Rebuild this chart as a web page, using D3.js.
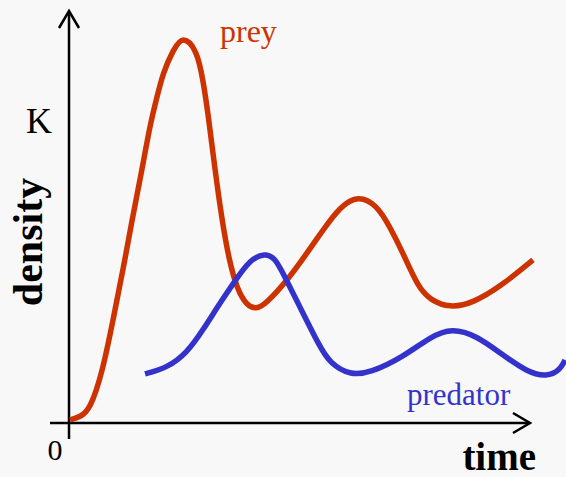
<!DOCTYPE html>
<html>
<head>
<meta charset="utf-8">
<script src="https://cdn.jsdelivr.net/npm/d3@7"></script>
<style>
  html, body { margin: 0; padding: 0; background: #f8f8f8; }
  svg { display: block; }
  text { font-family: "Liberation Serif", "Times New Roman", serif; }
</style>
</head>
<body>
<script>
// density given as % of carrying capacity K, time in arbitrary units
const preyTime = [1, 11, 21, 34, 44, 54, 63, 73, 81, 88, 94, 104, 114, 128, 134, 139, 146, 153, 160, 168, 178, 187, 196, 221, 238, 254, 271, 289, 308, 321, 334, 349, 361, 381, 404, 431, 464]
const preyDensity = [1.0, 2.0, 4.3, 17.6, 34.2, 50.8, 67.4, 84.1, 99.0, 108.3, 116.3, 123.9, 128.9, 123.9, 114.0, 103.0, 84.1, 67.4, 54.2, 44.5, 38.9, 37.9, 39.2, 48.5, 56.5, 64.1, 71.8, 75.7, 72.4, 65.1, 56.5, 45.2, 40.9, 38.2, 39.9, 45.2, 54.2]

const predatorTime = [76, 98, 118, 134, 151, 168, 181, 196, 206, 214, 231, 251, 261, 281, 301, 334, 361, 383, 408, 431, 458, 478, 491, 496]
const predatorDensity = [16.3, 18.3, 23.3, 30.9, 39.9, 48.2, 54.2, 56.5, 54.8, 49.8, 38.5, 25.2, 19.9, 15.9, 16.6, 21.9, 28.6, 31.6, 28.9, 23.3, 16.9, 15.3, 17.6, 20.9]

const yTicks = [{ value: 0, label: '0' }, { value: 100, label: 'K' }]

const width = 566
const height = 477

const svg = d3.select('body').append('svg')
  .attr('width', width)
  .attr('height', height)

const x = d3.scaleLinear().domain([0, 460]).range([69, 529])
const y = d3.scaleLinear().domain([0, 100]).range([423, 122])

const prey = preyTime.map((t, i) => [t, preyDensity[i]])
const predator = predatorTime.map((t, i) => [t, predatorDensity[i]])

const line = d3.line()
  .x(d => x(d[0]))
  .y(d => y(d[1]))
  .curve(d3.curveBasis)

// axes
const axes = svg.append('g')
  .attr('stroke', '#000')
  .attr('stroke-width', 2.5)
  .attr('fill', 'none')

axes.append('line')
  .attr('x1', x(0)).attr('y1', 439)
  .attr('x2', x(0)).attr('y2', 12)
axes.append('path')
  .attr('d', `M${x(0) - 10},28 L${x(0)},11 L${x(0) + 10},28`)

axes.append('line')
  .attr('x1', 50).attr('y1', y(0))
  .attr('x2', 530).attr('y2', y(0))
axes.append('path')
  .attr('d', `M513,${y(0) - 10} L530,${y(0)} L513,${y(0) + 10}`)

// curves
svg.append('path')
  .datum(prey)
  .attr('d', line)
  .attr('fill', 'none')
  .attr('stroke', '#cc3300')
  .attr('stroke-width', 5.5)

svg.append('path')
  .datum(predator)
  .attr('d', line)
  .attr('fill', 'none')
  .attr('stroke', '#3333cc')
  .attr('stroke-width', 5.5)

// tick labels
svg.append('text')
  .attr('x', 55).attr('y', 460)
  .attr('text-anchor', 'middle')
  .attr('font-size', 30)
  .text(yTicks[0].label)

svg.append('text')
  .attr('x', 39).attr('y', y(yTicks[1].value) + 11)
  .attr('text-anchor', 'middle')
  .attr('font-size', 36)
  .text(yTicks[1].label)

// series labels
svg.append('text')
  .attr('x', 220).attr('y', 42)
  .attr('font-size', 32)
  .attr('fill', '#cc3300')
  .text('prey')

svg.append('text')
  .attr('x', 407).attr('y', 405)
  .attr('font-size', 31)
  .attr('fill', '#3333cc')
  .text('predator')

// axis titles
svg.append('text')
  .attr('x', 536).attr('y', 470)
  .attr('text-anchor', 'end')
  .attr('font-size', 39)
  .attr('font-weight', 'bold')
  .text('time')

svg.append('text')
  .attr('transform', 'translate(42,242) rotate(-90)')
  .attr('text-anchor', 'middle')
  .attr('font-size', 42)
  .attr('font-weight', 'bold')
  .text('density')
</script>
</body>
</html>
